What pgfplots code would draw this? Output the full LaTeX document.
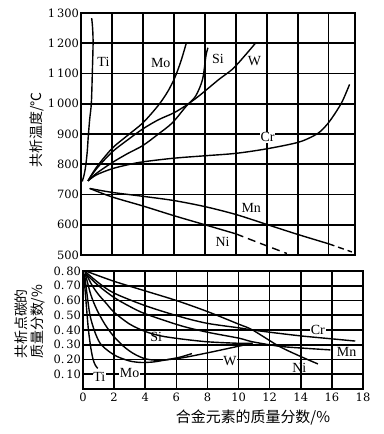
\documentclass[border=0pt]{standalone}
\usepackage{fontspec}
\setmainfont{Liberation Serif}
\newfontfamily\tickfont{DejaVu Serif}
\newfontfamily\cjk{Noto Sans CJK SC}
\usepackage{pgfplots}
\pgfplotsset{compat=1.18}
\tikzset{
  curve/.style={black, line width=1.4bp, smooth, tension=0.5},
  lbl/.style={font=\fontsize{14}{16}\selectfont, inner sep=0.8pt},
  gridline/.style={black, line width=1.6bp},
}
\pgfplotsset{
  myaxis/.style={
    scale only axis,
    axis line style={line width=1.9bp},
    xmajorgrids=true,
    ymajorgrids=true,
    major grid style={solid, black, line width=1.6bp},
    xtick style={draw=none},
    ytick style={draw=none},
    tick label style={font=\tickfont\fontsize{11.5}{14}\selectfont},
    yticklabel style={xshift=1.5bp},
  },
}
\begin{document}
\begin{tikzpicture}
\useasboundingbox (0bp,0bp) rectangle (384bp,-434bp);
% ---------------- top panel ----------------
\begin{axis}[myaxis, at={(81bp,-13bp)}, anchor=north west,
  width=274bp, height=242bp,
  xmin=0, xmax=17.7, ymin=500, ymax=1300,
  xtick={0,2,4,6,8,10,12,14,16}, xticklabel=\empty,
  ytick={500,600,700,800,900,1000,1100,1200,1300},
  yticklabels={500,600,700,800,900,{1\,000},{1\,100},{1\,200},{1\,300}}]
% grid lines
\pgfplotsinvokeforeach{2,4,6,8,10,12,14,16}{
  \addplot[gridline, forget plot] coordinates {(#1,500) (#1,1300)};
}
\pgfplotsinvokeforeach{600,700,800,900,1000,1100,1200}{
  \addplot[gridline, forget plot] coordinates {(0,#1) (17.7,#1)};
}
% Ti
\addplot[curve] coordinates {(0.08,743) (0.2,765) (0.3,793) (0.4,840) (0.47,892) (0.56,948) (0.67,1003) (0.73,1100) (0.78,1200) (0.75,1250) (0.69,1283)};
% Mo
\addplot[curve] coordinates {(0.45,745) (1,790) (2,852) (3,895) (4,937) (5,995) (5.6,1040) (6.05,1085) (6.45,1140) (6.8,1200)};
% W
\addplot[curve] coordinates {(0.45,745) (1,785) (2,840) (3,880) (4,917) (5,947) (6,970) (6.8,995) (7.6,1025) (8.9,1080) (9.8,1115) (10.6,1160) (11.3,1202)};
% Si
\addplot[curve] coordinates {(0.45,745) (1,770) (2,805) (3,835) (4,862) (5,900) (5.9,937) (6.8,992) (7.4,1025) (7.85,1080) (8.07,1158) (8.2,1185)};
% Cr
\addplot[curve] coordinates {(0.45,745) (1,765) (2,785) (3,798) (4,808) (6,820) (8,828) (10,836) (12,851) (14,872) (15,893) (15.5,910) (16,938) (16.5,975) (16.9,1010) (17.35,1064)};
% Mn
\addplot[curve] coordinates {(0.56,720) (2,707) (4,694) (6,680) (8,660) (10,634) (12,601) (14,568) (16,537)};
\addplot[black, line width=1.4bp, dash pattern=on 6bp off 4bp] coordinates {(16,537) (17.5,510)};
% Ni
\addplot[curve] coordinates {(0.56,720) (2,692) (4,662) (6,630) (8,600) (10,570)};
\addplot[black, line width=1.4bp, dash pattern=on 8bp off 5bp] coordinates {(10,570) (11.5,540) (13.3,505)};
\node[lbl] at (axis cs:1.45,1137) {Ti};
\node[lbl] at (axis cs:5.15,1136) {Mo};
\node[lbl] at (axis cs:8.85,1147) {Si};
\node[lbl] at (axis cs:11.2,1141) {W};
\node[lbl, fill=white] at (axis cs:12.05,890) {Cr};
\node[lbl] at (axis cs:11.0,655) {Mn};
\node[lbl] at (axis cs:9.15,544) {Ni};
\end{axis}
% ---------------- bottom panel ----------------
\begin{axis}[myaxis, at={(83bp,-271bp)}, anchor=north west,
  width=280bp, height=118bp,
  xmin=0, xmax=18, ymin=0, ymax=0.8,
  xtick={0,2,4,6,8,10,12,14,16,18},
  xticklabels={0,2,4,6,8,10,12,14,16,18},
  ytick={0.1,0.2,0.3,0.4,0.5,0.6,0.7,0.8},
  yticklabels={{0.\,10},{0.\,20},{0.\,30},{0.\,40},{0.\,50},{0.\,60},{0.\,70},{0.\,80}}]
% Ti
\addplot[curve] coordinates {(0.05,0.78) (0.15,0.65) (0.25,0.52) (0.35,0.40) (0.5,0.28) (0.65,0.20) (0.8,0.16) (0.95,0.14)};
% Mo
\addplot[curve] coordinates {(0.1,0.78) (0.25,0.65) (0.45,0.50) (0.75,0.39) (1.1,0.31) (1.6,0.26) (2.2,0.22) (3,0.19) (3.7,0.18) (4.5,0.183) (5.2,0.195) (6.2,0.215) (7.0,0.24)};
% W
\addplot[curve] coordinates {(0.15,0.78) (0.5,0.64) (0.88,0.54) (1.4,0.44) (1.95,0.36) (2.6,0.29) (3.25,0.24) (4,0.205) (4.9,0.195) (6.3,0.21) (8,0.245) (10,0.29) (10.9,0.31)};
% Si
\addplot[curve] coordinates {(0.2,0.78) (0.6,0.70) (1,0.64) (1.5,0.58) (2,0.52) (3,0.44) (4,0.39) (5,0.36) (6.26,0.34) (8,0.32) (10,0.31) (10.9,0.31)};
% Cr
\addplot[curve] coordinates {(0.1,0.80) (1,0.72) (2,0.65) (4,0.565) (6.26,0.49) (8,0.445) (10,0.415) (10.9,0.40) (12,0.385) (14,0.36) (16,0.34) (17.5,0.325)};
% Mn
\addplot[curve] coordinates {(0.1,0.79) (1,0.70) (2,0.62) (3,0.56) (4,0.51) (6.26,0.43) (8,0.385) (10,0.345) (10.9,0.32) (12.6,0.29) (14,0.278) (15.9,0.265)};
% Ni
\addplot[curve] coordinates {(0.3,0.795) (2,0.73) (4,0.665) (6,0.60) (8,0.525) (10,0.44) (10.9,0.40) (12.6,0.29) (14,0.22) (15.1,0.17)};
\node[lbl, fill=white] at (axis cs:1.05,0.084) {Ti};
\node[lbl, fill=white] at (axis cs:3.0,0.106) {Mo};
\node[lbl] at (axis cs:4.7,0.355) {Si};
\node[lbl, fill=white] at (axis cs:9.45,0.19) {W};
\node[lbl, fill=white] at (axis cs:15.1,0.40) {Cr};
\node[lbl, fill=white] at (axis cs:16.95,0.25) {Mn};
\node[lbl] at (axis cs:13.9,0.14) {Ni};
\end{axis}
% ---------------- axis titles ----------------
\node[rotate=90, font=\cjk\fontsize{14}{16}\selectfont] at (37bp,-130bp) {共析温度/℃};
\node[rotate=90, anchor=west, inner sep=0pt, font=\cjk\fontsize{14}{16}\selectfont] at (21bp,-359bp) {共析点碳的};
\node[rotate=90, anchor=west, inner sep=0pt, font=\cjk\fontsize{14}{16}\selectfont] at (38bp,-359bp) {质量分数/\%};
\node[font=\cjk\fontsize{15}{17}\selectfont] at (253bp,-417bp) {合金元素的质量分数/\%};
\end{tikzpicture}
\end{document}
